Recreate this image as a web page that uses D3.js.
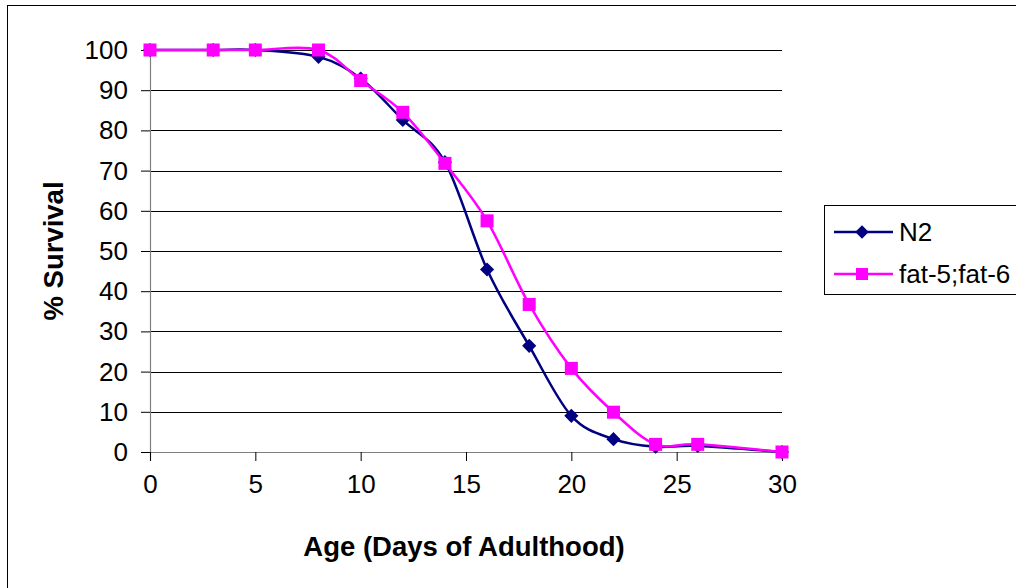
<!DOCTYPE html>
<html><head><meta charset="utf-8">
<script src="https://cdn.jsdelivr.net/npm/d3@7"></script>
<style>html,body{margin:0;padding:0;background:#fff;}svg{display:block;}</style>
</head><body>
<svg id="chart" width="1016" height="588"></svg>
<script>
const days = [0, 3, 5, 8, 10, 12, 14, 16, 18, 20, 22, 24, 26, 30];
const n2 = [100, 100, 100, 98.3, 92.9, 82.6, 72.1, 45.4, 26.4, 9.0, 3.2, 1.3, 1.5, 0];
const fat56 = [100, 100, 100, 100, 92.4, 84.5, 71.8, 57.5, 36.7, 20.8, 9.9, 1.9, 1.9, 0];
const seriesNames = ["N2", "fat-5;fat-6"];
const xTicks = [0, 5, 10, 15, 20, 25, 30];
const yTicks = [0, 10, 20, 30, 40, 50, 60, 70, 80, 90, 100];
const xTitle = "Age (Days of Adulthood)";
const yTitle = "% Survival";

const svg = d3.select("#chart");
const FONT = "Liberation Sans, Arial, sans-serif";
const x = d3.scaleLinear().domain([0, 30]).range([150, 782]);
const y = d3.scaleLinear().domain([0, 100]).range([452, 50]);

// outer chart border (extends beyond viewport right/bottom)
svg.append("rect").attr("x", 7.5).attr("y", 5.5).attr("width", 1100).attr("height", 700)
  .attr("fill", "none").attr("stroke", "#000").attr("stroke-width", 1);

// gridlines
svg.append("g").selectAll("line").data(yTicks.filter(d => d > 0)).join("line")
  .attr("x1", x(0)).attr("x2", x(30))
  .attr("y1", d => Math.round(y(d)) + 0.5).attr("y2", d => Math.round(y(d)) + 0.5)
  .attr("stroke", "#000").attr("stroke-width", 1);

// y axis
const yAxis = d3.axisLeft(y).tickValues(yTicks).tickSize(9).tickPadding(13).tickFormat(d3.format("d"));
const gy = svg.append("g").attr("transform", `translate(${x(0)},0)`).call(yAxis);
gy.select(".domain").attr("stroke", "#808080").attr("stroke-width", 1.2);
gy.selectAll(".tick line").attr("stroke", "#000");
gy.selectAll(".tick text").attr("font-family", FONT).attr("font-size", 26).attr("fill", "#000").attr("dy", "0.33em");

// x axis
const xAxis = d3.axisBottom(x).tickValues(xTicks).tickSize(9).tickPadding(14).tickFormat(d3.format("d"));
const gx = svg.append("g").attr("transform", `translate(0,${y(0)})`).call(xAxis);
gx.select(".domain").attr("stroke", "#808080").attr("stroke-width", 1.2);
gx.selectAll(".tick line").attr("stroke", "#000");
gx.selectAll(".tick text").attr("font-family", FONT).attr("font-size", 26).attr("fill", "#000").attr("dy", "0.71em");

// titles
svg.append("text").attr("x", 464).attr("y", 556).attr("text-anchor", "middle")
  .attr("font-family", FONT).attr("font-weight", "bold").attr("font-size", 27.5).text(xTitle);
svg.append("text").attr("transform", "translate(63,251) rotate(-90)").attr("text-anchor", "middle")
  .attr("font-family", FONT).attr("font-weight", "bold").attr("font-size", 27.5).text(yTitle);

const line = d3.line().x(d => x(d[0])).y(d => y(d[1])).curve(d3.curveCatmullRom.alpha(0));
const colors = ["#000080", "#FF00FF"];
const diamond = d3.symbol().type(d3.symbolSquare).size(100);

const dataN2 = days.map((d, i) => [d, n2[i]]);
const dataFat = days.map((d, i) => [d, fat56[i]]);

svg.append("path").attr("d", line(dataN2)).attr("fill", "none").attr("stroke", colors[0]).attr("stroke-width", 2.5);
svg.append("g").selectAll("path").data(dataN2).join("path")
  .attr("d", diamond).attr("transform", d => `translate(${x(d[0])},${y(d[1])}) rotate(45)`).attr("fill", colors[0]);

svg.append("path").attr("d", line(dataFat)).attr("fill", "none").attr("stroke", colors[1]).attr("stroke-width", 2.5);
svg.append("g").selectAll("rect").data(dataFat).join("rect")
  .attr("x", d => x(d[0]) - 6.5).attr("y", d => y(d[1]) - 6.5).attr("width", 13).attr("height", 13).attr("fill", colors[1]);

// legend
const lg = svg.append("g");
lg.append("rect").attr("x", 824.5).attr("y", 205.5).attr("width", 300).attr("height", 89)
  .attr("fill", "#fff").attr("stroke", "#000").attr("stroke-width", 1);
const rows = [232, 274];
seriesNames.forEach((name, i) => {
  const ry = rows[i];
  lg.append("line").attr("x1", 834).attr("x2", 893).attr("y1", ry).attr("y2", ry)
    .attr("stroke", colors[i]).attr("stroke-width", 2.5);
  if (i === 0) {
    lg.append("path").attr("d", d3.symbol().type(d3.symbolSquare).size(90)).attr("transform", `translate(862,${ry}) rotate(45)`).attr("fill", colors[0]);
  } else {
    lg.append("rect").attr("x", 856).attr("y", ry - 6).attr("width", 12).attr("height", 12).attr("fill", colors[1]);
  }
  lg.append("text").attr("x", 899).attr("y", ry + 9).attr("font-family", FONT).attr("font-size", 26).text(name);
});
</script>
</body></html>
